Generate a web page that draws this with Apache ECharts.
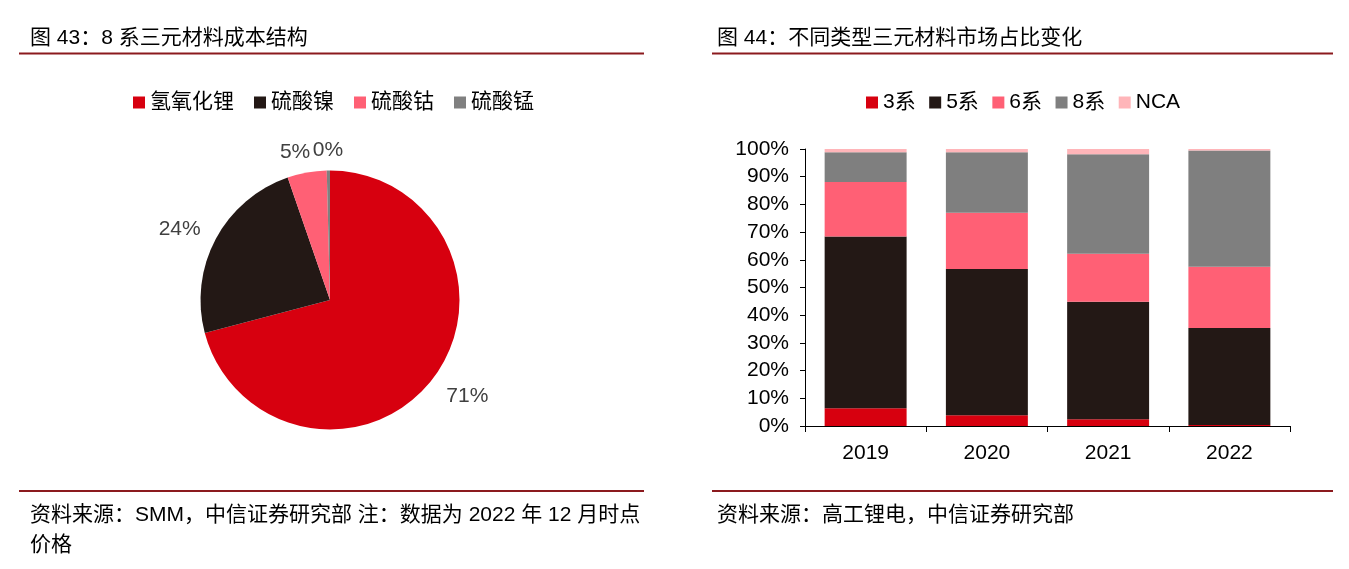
<!DOCTYPE html>
<html><head><meta charset="utf-8">
<script src="https://cdn.jsdelivr.net/npm/echarts@6/dist/echarts.min.js"></script>
<style>html,body{margin:0;padding:0;background:#fff}#c{width:1349px;height:569px}</style>
</head><body><div id="c"></div>
<script>
// ---- data ----
const pieNames = ['氢氧化锂', '硫酸镍', '硫酸钴', '硫酸锰'];
const pieValues = [70.9, 23.8, 4.9, 0.4];
const years = ['2019', '2020', '2021', '2022'];
const barNames = ['3系', '5系', '6系', '8系', 'NCA'];
const s3 = [6.4, 3.9, 2.4, 0.4];
const s5 = [62.0, 52.8, 42.5, 35.0];
const s6 = [19.7, 20.3, 17.3, 22.1];
const s8 = [10.7, 21.8, 35.9, 42.0];
const sNCA = [1.2, 1.2, 1.9, 0.5];

const FONT = '"Liberation Sans","Noto Sans CJK SC",sans-serif';
const pieColors = ['#D7000F', '#231815', '#FF6075', '#808080'];
const barColors = ['#D7000F', '#231815', '#FF6075', '#7F7F7F', '#FFB5B9'];
const lineColor = '#8B1A1E';
const pieLabelShift = [-8, -3, -7, -15];
const pieLabelLen = [27.5, 20.5, 20.5, 20.5];

const chart = echarts.init(document.getElementById('c'));
const barValues = [s3, s5, s6, s8, sNCA];

function txt(x, y, s, size) {
  return { type: 'text', x: x, y: y, style: { text: s, fontSize: size, fontFamily: FONT, fill: '#000', verticalAlign: 'middle', lineHeight: 30 } };
}
function hline(x1, x2, y) {
  return { type: 'line', shape: { x1: x1, y1: y, x2: x2, y2: y }, style: { stroke: lineColor, lineWidth: 2 } };
}

chart.setOption({
  animation: false,
  textStyle: { fontFamily: FONT },
  graphic: [
    txt(30, 38, '图 43：8 系三元材料成本结构', 21),
    txt(717, 38, '图 44：不同类型三元材料市场占比变化', 21),
    hline(19, 644, 53.5), hline(712, 1333, 53.5),
    hline(19, 644, 491), hline(712, 1333, 491),
    { type: 'text', x: 30, y: 500, style: { text: '资料来源：SMM，中信证券研究部 注：数据为 2022 年 12 月时点\n价格', fontSize: 21, fontFamily: FONT, fill: '#000', lineHeight: 30 } },
    txt(717, 515, '资料来源：高工锂电，中信证券研究部', 21)
  ],
  legend: [
    { data: pieNames, left: 128, top: 87, itemWidth: 12, itemHeight: 12, itemGap: 20, icon: 'rect',
      textStyle: { fontSize: 21, color: '#000', fontFamily: FONT } },
    { data: barNames, left: 861, top: 87, itemWidth: 12, itemHeight: 12, itemGap: 13.5, icon: 'rect',
      textStyle: { fontSize: 21, color: '#000', fontFamily: FONT } }
  ],
  grid: { left: 805, right: 59, top: 149, bottom: 143, containLabel: false },
  xAxis: {
    type: 'category', data: years,
    axisLine: { lineStyle: { color: '#000', width: 1 } },
    axisTick: { show: true, length: 6, alignWithLabel: false, lineStyle: { color: '#000' } },
    axisLabel: { fontSize: 21, color: '#000', margin: 17, fontFamily: FONT }
  },
  yAxis: {
    type: 'value', min: 0, max: 100, interval: 10,
    axisLine: { show: true, lineStyle: { color: '#000', width: 1 } },
    axisTick: { show: true, length: 5, lineStyle: { color: '#000' } },
    splitLine: { show: false },
    axisLabel: { fontSize: 21, color: '#000', margin: 16, formatter: '{value}%', fontFamily: FONT }
  },
  series: barNames.map((n, i) => ({
    name: n, type: 'bar', stack: 'total', data: barValues[i],
    barWidth: '67.6%', itemStyle: { color: barColors[i] }
  })).concat([{
    name: 'pie', type: 'pie', center: [330, 300], radius: 129.5,
    startAngle: 90, clockwise: true, avoidLabelOverlap: false, percentPrecision: 0,
    label: { show: true, position: 'outside', formatter: '{d}%', fontSize: 21, color: '#404040', fontFamily: FONT },
    labelLine: { show: false, length: 20.5, length2: 0 },
    data: pieNames.map((n, i) => ({ name: n, value: pieValues[i], itemStyle: { color: pieColors[i] },
      label: { distanceToLabelLine: pieLabelShift[i] },
      labelLine: { show: false, length: pieLabelLen[i], length2: 0 } }))
  }])
});
</script></body></html>
